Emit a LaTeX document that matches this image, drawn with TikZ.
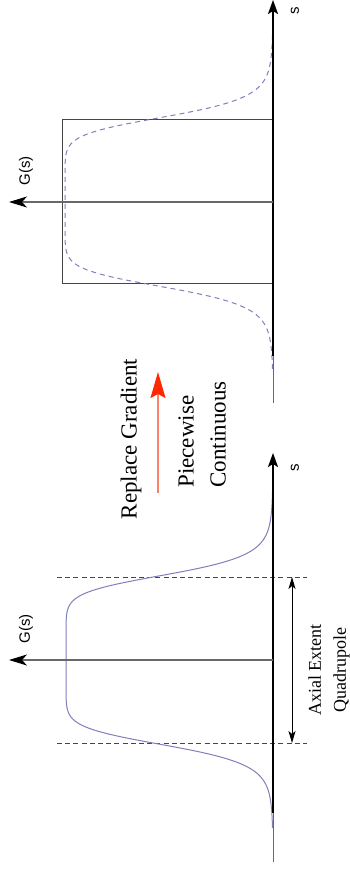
\documentclass[tikz,border=0pt]{standalone}
\usepackage{fontspec}
\setmainfont{Liberation Serif}
\setsansfont{Liberation Sans}
\usetikzlibrary{arrows.meta}

\definecolor{curveblue}{RGB}{128,128,186}
\definecolor{axisgray}{RGB}{105,105,105}
\definecolor{boxgray}{RGB}{70,70,70}
\definecolor{arrowsalmon}{RGB}{255,128,104}
\definecolor{arrowred}{RGB}{255,40,0}

\tikzset{
  saxis/.style={line width=1pt,-{Stealth[length=7pt,width=5pt,inset=1.5pt]}},
  sthin/.style={draw=axisgray,line width=0.5pt},
  gaxis/.style={draw=axisgray,line width=0.7pt,-{Stealth[length=9pt,width=5.5pt,inset=2.5pt,color=black]}},
  axlabel/.style={font=\sffamily\fontsize{7.5}{8}\selectfont,rotate=90,inner sep=0pt},
  note/.style={font=\fontsize{11.5}{16}\selectfont,rotate=90,inner sep=0pt},
  extline/.style={draw=boxgray,line width=0.5pt,dash pattern=on 2.5pt off 1.6pt},
  curve/.style={draw=curveblue,line width=0.5pt},
}

\begin{document}
\begin{tikzpicture}[x=0.5pt,y=-0.5pt]
\useasboundingbox[fill=white] (0,0) rectangle (349,869);

% ------------------------------------------------------------------
% Axis end points (upper plot: piecewise, lower plot: original)
% ------------------------------------------------------------------
\coordinate (s1lo)  at (273,403);
\coordinate (s1mid) at (273,356);
\coordinate (s1tip) at (273,0);
\coordinate (g1o)   at (273,202);
\coordinate (g1tip) at (9,202);

\coordinate (s2lo)  at (273,862);
\coordinate (s2mid) at (273,813);
\coordinate (s2tip) at (273,453);
\coordinate (g2o)   at (273,660);
\coordinate (g2tip) at (9,660);

% ------------------------------------------------------------------
% Upper plot: hard-edge box and dashed gradient
% ------------------------------------------------------------------
\draw[draw=boxgray,line width=0.5pt] (62,119) rectangle (273,283);
\draw[curve,dash pattern=on 2.5pt off 2pt]
  plot[domain=-167:167,samples=161,smooth,variable=\d]
  ({273-208/(1+(abs(\d)/86)^9)},{202+\d});

\draw[sthin] (s1lo) -- (s1mid);
\draw[saxis] (s1mid) -- (s1tip);
\draw[gaxis] (g1o) -- (g1tip);

\node[axlabel] (g1lbl) at (26,171) {G(s)};
\node[axlabel] (s1lbl) at (295,11) {s};

% ------------------------------------------------------------------
% Middle: arrow and text
% ------------------------------------------------------------------
\coordinate (redbot) at (158,493);
\coordinate (redtip) at (158,372);
\draw[draw=arrowsalmon,line width=0.8pt,
  -{Stealth[length=13pt,width=7.5pt,inset=2pt,color=arrowred]}] (redbot) -- (redtip);

\node[note] (repl) at (131,439) {Replace Gradient};
\node[note,align=left,anchor=west] (piece) at (202,488) {Piecewise\\Continuous};

% ------------------------------------------------------------------
% Lower plot: smooth gradient with axial extent
% ------------------------------------------------------------------
\coordinate (ext1l) at (57,577);
\coordinate (ext1r) at (307,577);
\coordinate (ext2l) at (57,743);
\coordinate (ext2r) at (307,743);
\coordinate (ext1a) at (292,577);
\coordinate (ext2a) at (292,743);

\draw[extline] (ext1l) -- (ext1r);
\draw[extline] (ext2l) -- (ext2r);

\draw[curve]
  plot[domain=-168:168,samples=161,smooth,variable=\d]
  ({273-207/(1+(abs(\d)/86)^9)},{660+\d});

\draw[sthin] (s2lo) -- (s2mid);
\draw[saxis] (s2mid) -- (s2tip);
\draw[gaxis] (g2o) -- (g2tip);

\draw[line width=0.5pt,{Stealth[length=6pt,width=3.5pt,inset=1.5pt]}-{Stealth[length=6pt,width=3.5pt,inset=1.5pt]}]
  (ext1a) -- (ext2a);

\node[axlabel] (g2lbl) at (26,629) {G(s)};
\node[axlabel] (s2lbl) at (295,468) {s};
\node[note,font=\fontsize{9}{12.5}\selectfont,align=center] (extlbl) at (329,670)
  {Axial Extent\\Quadrupole};

\end{tikzpicture}
\end{document}
